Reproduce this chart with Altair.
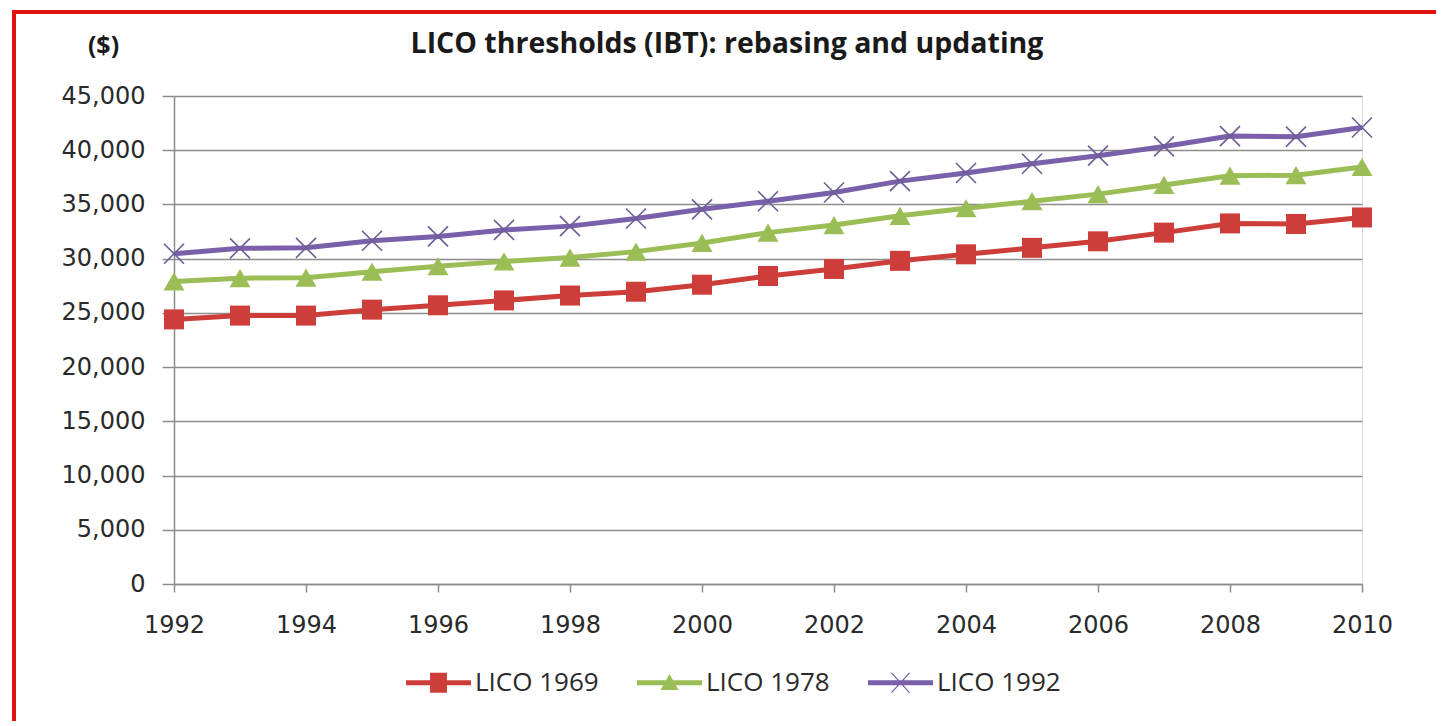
import altair as alt
import pandas as pd

# ---- data ----
years = [1992, 1993, 1994, 1995, 1996, 1997, 1998, 1999, 2000, 2001,
         2002, 2003, 2004, 2005, 2006, 2007, 2008, 2009, 2010]
lico_1969 = [24400, 24750, 24750, 25300, 25700, 26150, 26600, 26950, 27600, 28400,
             29050, 29800, 30400, 31000, 31600, 32400, 33250, 33200, 33800]
lico_1978 = [27900, 28200, 28250, 28800, 29300, 29750, 30100, 30650, 31450, 32400,
             33100, 33950, 34650, 35300, 35950, 36800, 37650, 37700, 38450]
lico_1992 = [30450, 30950, 31000, 31650, 32050, 32650, 33000, 33700, 34550, 35300,
             36100, 37150, 37900, 38750, 39500, 40350, 41300, 41250, 42100]
series_names = ["LICO 1969", "LICO 1978", "LICO 1992"]
x_ticks = [1992, 1994, 1996, 1998, 2000, 2002, 2004, 2006, 2008, 2010]
y_ticks = [0, 5000, 10000, 15000, 20000, 25000, 30000, 35000, 40000, 45000]

title_text = "LICO thresholds (IBT): rebasing and updating"
unit_text = "($)"

# ---- styles ----
colors = ["#CD3E3A", "#9BBD55", "#7A5FAA"]
x_color = "#6E5E96"
grid_gray = "#8C8C8C"
border_red = "#E0120F"

rows = []
for name, vals in zip(series_names, [lico_1969, lico_1978, lico_1992]):
    for yr, v in zip(years, vals):
        rows.append({"year": yr, "value": v, "series": name})
df = pd.DataFrame(rows)

W, H = 1188, 488

x_enc = alt.X("year:Q",
              scale=alt.Scale(domain=[1992, 2010], nice=False, zero=False),
              axis=alt.Axis(values=x_ticks, format="d", title=None, grid=False,
                            tickSize=8, labelPadding=21, labelFontSize=24,
                            labelFont="DejaVu Sans", labelColor="#2a2a2a",
                            domainColor=grid_gray, tickColor=grid_gray,
                            domainWidth=1.5, tickWidth=1.5, labelFlush=False))
y_enc = alt.Y("value:Q",
              scale=alt.Scale(domain=[0, 45000], nice=False),
              axis=alt.Axis(values=y_ticks, format=",d", title=unit_text,
                            titleAngle=0, titleX=-71, titleY=-43,
                            titleAlign="center", titleBaseline="alphabetic",
                            titleFont="Open Sans", titleFontSize=25,
                            titleFontWeight="bold", titleColor="#1a1a1a",
                            grid=True, gridColor=grid_gray, gridWidth=1.5,
                            tickSize=12, labelPadding=17, labelFontSize=24,
                            labelFont="DejaVu Sans", labelColor="#2a2a2a",
                            domainColor=grid_gray, tickColor=grid_gray,
                            domainWidth=1.5, tickWidth=1.5))

base = alt.Chart(df)

lines = base.mark_line(strokeWidth=5).encode(
    x=x_enc, y=y_enc,
    color=alt.Color("series:N", scale=alt.Scale(domain=series_names, range=colors),
                    legend=None),
)

pts_red = base.transform_filter(alt.datum.series == series_names[0]).mark_point(
    shape="square", size=400, filled=True, opacity=1, color=colors[0]
).encode(x="year:Q", y="value:Q")
pts_green = base.transform_filter(alt.datum.series == series_names[1]).mark_point(
    shape="triangle-up", size=441, filled=True, opacity=1, color=colors[1]
).encode(x="year:Q", y="value:Q")
pts_purple = base.transform_filter(alt.datum.series == series_names[2]).mark_point(
    shape="M-1,-1L1,1M-1,1L1,-1", size=400, filled=False, opacity=1,
    color=x_color, strokeWidth=1.6
).encode(x="year:Q", y="value:Q")

# legend symbols: line segment + marker
line_seg = "M-1,-0.077H1V0.077H-1Z"
legend_paths = [
    line_seg + "M-0.26,-0.31H0.26V0.31H-0.26Z",
    line_seg + "M0,-0.27L0.28,0.22L-0.28,0.22Z",
    line_seg + "M-0.305,-0.31L-0.255,-0.31L0.305,0.31L0.255,0.31Z"
               "M0.255,-0.31L0.305,-0.31L-0.255,0.31L-0.305,0.31Z",
]
leg = dict(orient="none", legendX=232, legendY=554, direction="horizontal",
           title=None, symbolSize=4225, symbolStrokeWidth=0, labelFont="Open Sans",
           labelFontSize=26, labelColor="#2a2a2a", labelOffset=4,
           columnPadding=38, padding=0)
legend_layer = base.transform_filter(alt.datum.year < 0).mark_point(
    filled=True, opacity=1
).encode(
    x="year:Q", y="value:Q",
    color=alt.Color("series:N", scale=alt.Scale(domain=series_names, range=colors),
                    legend=alt.Legend(**leg)),
    shape=alt.Shape("series:N", scale=alt.Scale(domain=series_names, range=legend_paths),
                    legend=alt.Legend(**leg)),
)

one = pd.DataFrame({"k": [0]})
border_left = alt.Chart(one).mark_rule(color=border_red, strokeWidth=4).encode(
    x=alt.value(-160), y=alt.value(-86), y2=alt.value(625))
border_top = alt.Chart(one).mark_rule(color=border_red, strokeWidth=4).encode(
    x=alt.value(-162), x2=alt.value(1262), y=alt.value(-84))
title_mark = alt.Chart(one).mark_text(
    font="Open Sans", fontSize=28.5, fontWeight="bold", color="#1a1a1a",
    align="center", baseline="alphabetic"
).encode(x=alt.value(553), y=alt.value(-43), text=alt.value(title_text))

chart = alt.layer(
    border_left, border_top, title_mark, lines, pts_red, pts_green, pts_purple,
    legend_layer
).resolve_scale(color="independent", shape="independent").properties(
    width=W, height=H,
    padding={"left": 2, "top": 0, "right": 0, "bottom": 0},
).configure_view(stroke=None).configure(background="white")

chart.save("out.html", embed_options={"renderer": "svg", "actions": False})
